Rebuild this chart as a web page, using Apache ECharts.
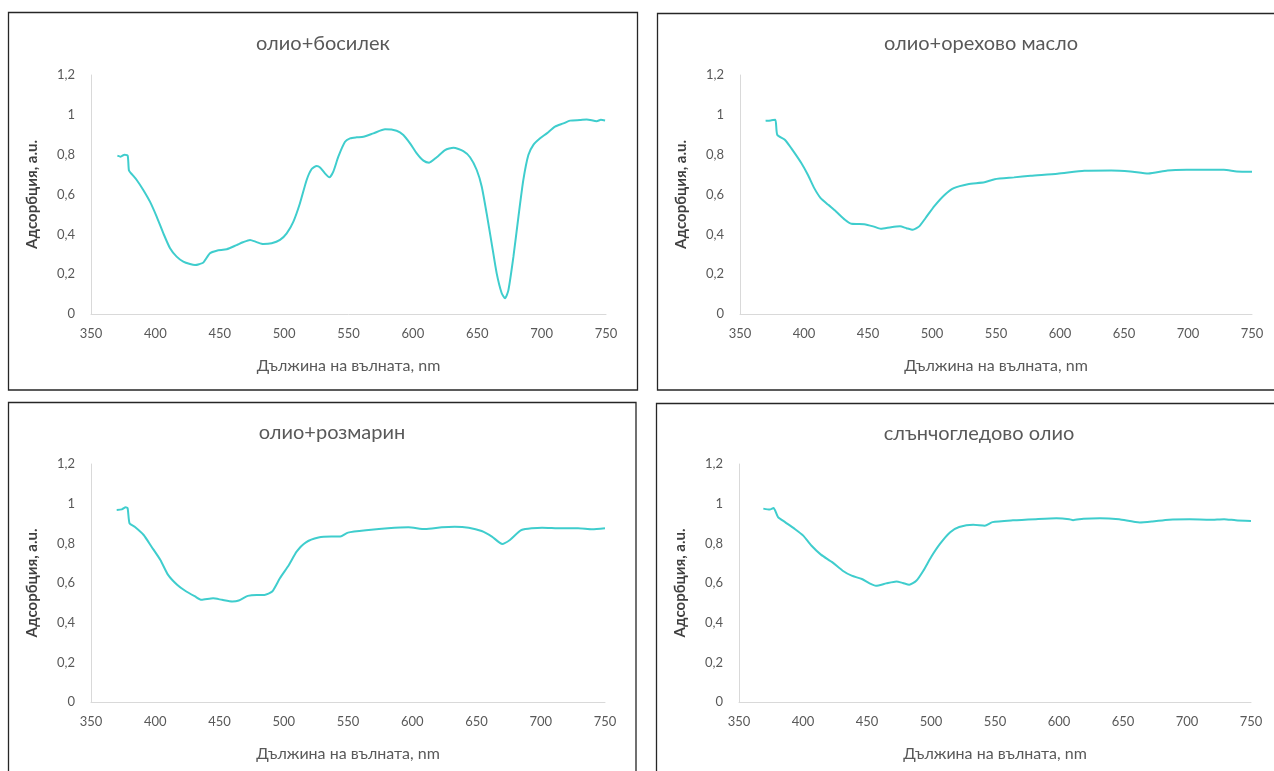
<!DOCTYPE html>
<html>
<head>
<meta charset="utf-8">
<script src="https://cdn.jsdelivr.net/npm/echarts@6/dist/echarts.min.js"></script>
<style>
html,body{margin:0;padding:0;background:#fff;}
#c{width:1274px;height:771px;}
</style>
</head>
<body>
<div id="c"></div>
<script>
// ---- data ----
const titles = ['олио+босилек', 'олио+орехово масло', 'олио+розмарин', 'слънчогледово олио'];
const xAxisName = 'Дължина на вълната, nm';
const yAxisName = 'Адсорбция, a.u.';
const xTicks = [350, 400, 450, 500, 550, 600, 650, 700, 750];
const yTicks = [0, 0.2, 0.4, 0.6, 0.8, 1, 1.2];

const basilNm = [370.5, 373, 376, 378.5, 379.5, 382, 385.5, 390.6, 395.8, 401, 406.2, 411.4, 416.5, 421.7, 426.9, 430.8, 434, 437.2, 442.4, 447.6, 455.4, 463.1, 468, 473.5, 478.7, 483.9, 490.3, 496.8, 502, 507.2, 512.3, 517.5, 521.4, 525.3, 527.9, 531.7, 535.1, 538.2, 542.1, 547.3, 551.2, 556.3, 561.6, 569.3, 578.4, 587.4, 592.6, 597.8, 603, 608.2, 612.6, 618.5, 625, 631.5, 639.2, 644.4, 649.6, 653.5, 657.3, 661.2, 665.1, 669, 671.6, 674.2, 678.1, 682, 685.8, 689.7, 693.6, 698.8, 704, 710.4, 716.9, 722.1, 729.8, 735, 742.8, 746, 749.3];
const basilAbs = [0.795, 0.79, 0.8, 0.795, 0.72, 0.70, 0.673, 0.623, 0.564, 0.489, 0.405, 0.33, 0.288, 0.263, 0.251, 0.246, 0.25, 0.258, 0.305, 0.318, 0.325, 0.346, 0.36, 0.372, 0.361, 0.351, 0.355, 0.372, 0.405, 0.464, 0.556, 0.673, 0.728, 0.743, 0.736, 0.706, 0.686, 0.715, 0.79, 0.865, 0.882, 0.887, 0.89, 0.907, 0.927, 0.92, 0.899, 0.857, 0.807, 0.77, 0.76, 0.787, 0.823, 0.835, 0.818, 0.787, 0.723, 0.639, 0.505, 0.355, 0.204, 0.104, 0.079, 0.12, 0.288, 0.489, 0.673, 0.798, 0.849, 0.882, 0.907, 0.941, 0.957, 0.971, 0.974, 0.977, 0.968, 0.975, 0.972];

const walnutNm = [370, 374, 377.6, 379.1, 385, 390, 398, 403, 408, 413, 419, 425, 432, 437, 442, 447, 454, 460, 468, 475, 480, 485, 490, 495, 502, 510, 517, 528, 541, 549, 564, 577, 598, 619, 640, 655, 669, 684, 699, 712, 728, 738, 750];
const walnutAbs = [0.97, 0.972, 0.975, 0.90, 0.875, 0.833, 0.757, 0.699, 0.632, 0.582, 0.548, 0.515, 0.473, 0.453, 0.452, 0.451, 0.44, 0.428, 0.436, 0.44, 0.431, 0.423, 0.44, 0.482, 0.543, 0.599, 0.632, 0.652, 0.661, 0.677, 0.686, 0.694, 0.704, 0.719, 0.721, 0.716, 0.706, 0.721, 0.724, 0.724, 0.724, 0.716, 0.714];

const rosemaryNm = [370, 374, 377, 378.5, 380, 384, 391, 397, 404, 410, 417, 423, 431, 436, 445, 452, 460, 465, 472, 479, 485, 491, 497, 504, 510, 517, 527, 537, 544, 550, 566, 581, 597, 610, 623, 633, 644, 654, 662, 670, 676, 685, 701, 716, 729, 740, 750];
const rosemaryAbs = [0.968, 0.971, 0.982, 0.977, 0.901, 0.884, 0.842, 0.784, 0.716, 0.641, 0.591, 0.562, 0.532, 0.515, 0.523, 0.515, 0.507, 0.512, 0.535, 0.54, 0.54, 0.557, 0.624, 0.691, 0.758, 0.804, 0.829, 0.834, 0.834, 0.854, 0.867, 0.876, 0.881, 0.872, 0.881, 0.884, 0.879, 0.862, 0.834, 0.797, 0.817, 0.867, 0.879, 0.876, 0.876, 0.871, 0.876];

const sunflowerNm = [369, 374, 377, 380.5, 386, 393.5, 400, 406.5, 414, 423, 431, 438, 446, 452, 457, 465, 473, 478, 483, 488.5, 494, 500, 507, 515, 522, 533, 542, 548, 564, 582, 598, 608, 611, 619, 632, 647, 663, 673, 686, 702, 718, 729, 738, 750];
const sunflowerAbs = [0.975, 0.97, 0.978, 0.932, 0.907, 0.873, 0.84, 0.789, 0.743, 0.704, 0.662, 0.637, 0.62, 0.598, 0.586, 0.598, 0.608, 0.6, 0.591, 0.611, 0.662, 0.73, 0.797, 0.856, 0.882, 0.894, 0.889, 0.907, 0.916, 0.922, 0.926, 0.922, 0.917, 0.924, 0.927, 0.921, 0.905, 0.91, 0.919, 0.921, 0.919, 0.922, 0.916, 0.912];

// ---- layout ----
const FONT = 'Lato, "Open Sans", sans-serif';
const seriesNm = [basilNm, walnutNm, rosemaryNm, sunflowerNm];
const seriesAbs = [basilAbs, walnutAbs, rosemaryAbs, sunflowerAbs];
const grids = [
  {left: 91, width: 515, top: 75, height: 239},
  {left: 740, width: 512, top: 75, height: 239},
  {left: 91, width: 514, top: 464, height: 238},
  {left: 739, width: 512, top: 464, height: 238}
];
const titlePos = [[318, 29], [976, 29], [327, 418], [974, 419]];
const boxes = [
  {x: 8.5, y: 12.5, w: 629, h: 377.5},
  {x: 657.5, y: 13.5, w: 640, h: 376.5},
  {x: 8.5, y: 402.5, w: 627.5, h: 420},
  {x: 656.5, y: 403.5, w: 640, h: 420}
];

const lineColor = '#3fcdcd';
const textColor = '#595959';
const axisLineColor = '#d9d9d9';

const option = {
  backgroundColor: '#fff',
  animation: false,
  title: titles.map((t, i) => ({
    text: t, left: titlePos[i][0], top: titlePos[i][1], textAlign: 'center',
    textStyle: {fontFamily: FONT, fontSize: 20, fontWeight: 'normal', color: textColor}
  })),
  grid: grids.map(g => Object.assign({containLabel: false}, g)),
  xAxis: grids.map((g, i) => ({
    type: 'value', gridIndex: i, min: xTicks[0], max: xTicks[xTicks.length - 1], interval: xTicks[1] - xTicks[0],
    name: xAxisName, nameLocation: 'middle', nameGap: 44,
    nameTextStyle: {fontFamily: FONT, fontSize: 16, color: textColor},
    axisLine: {show: true, lineStyle: {color: axisLineColor, width: 1}},
    axisTick: {show: false}, splitLine: {show: false},
    axisLabel: {fontFamily: FONT, fontSize: 13, color: textColor, margin: 13}
  })),
  yAxis: grids.map((g, i) => ({
    type: 'value', gridIndex: i, min: yTicks[0], max: yTicks[yTicks.length - 1], interval: yTicks[1] - yTicks[0],
    name: yAxisName, nameLocation: 'middle', nameGap: 51, nameRotate: 90,
    nameTextStyle: {fontFamily: FONT, fontSize: 15, fontWeight: 'bold', color: '#404040'},
    axisLine: {show: true, lineStyle: {color: axisLineColor, width: 1}},
    axisTick: {show: false}, splitLine: {show: false},
    axisLabel: {fontFamily: FONT, fontSize: 13, color: textColor, margin: 16,
      formatter: v => String(Math.round(v * 10) / 10).replace('.', ',')}
  })),
  series: seriesNm.map((nm, i) => ({
    type: 'line', xAxisIndex: i, yAxisIndex: i, showSymbol: false, smooth: 0.2,
    lineStyle: {color: lineColor, width: 2}, itemStyle: {color: lineColor},
    data: nm.map((x, k) => [x, seriesAbs[i][k]])
  })),
  graphic: boxes.map(b => ({
    type: 'rect', silent: true, z: 100,
    shape: {x: b.x, y: b.y, width: b.w, height: b.h},
    style: {fill: 'none', stroke: '#262626', lineWidth: 1.3}
  }))
};

const chart = echarts.init(document.getElementById('c'), null, {renderer: 'canvas'});
chart.setOption(option);
</script>
</body>
</html>
